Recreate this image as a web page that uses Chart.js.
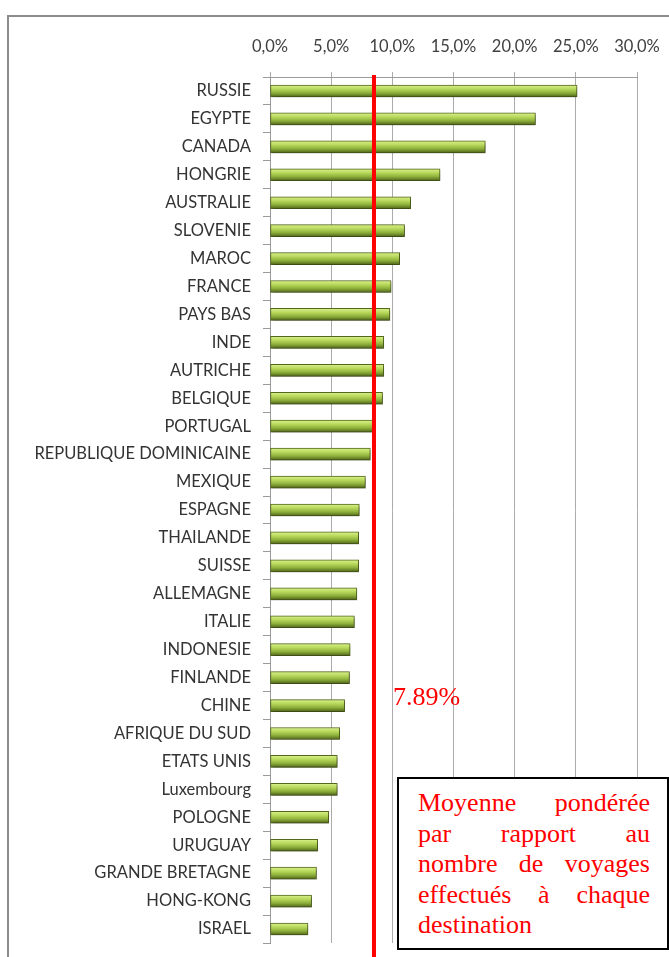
<!DOCTYPE html>
<html><head><meta charset="utf-8">
<script src="https://cdn.jsdelivr.net/npm/chart.js@4/dist/chart.umd.min.js"></script>
<style>
html,body{margin:0;padding:0;background:#fff;}
#wrap{position:relative;width:669px;height:957px;overflow:hidden;}
#frame{position:absolute;left:7px;top:15px;width:700px;height:1000px;border:2px solid #8c8c8c;box-sizing:border-box;}
#c{position:absolute;left:0;top:0;}
#avg{position:absolute;left:393px;top:682px;font-family:"Liberation Serif","Times New Roman",serif;font-size:26px;line-height:30px;color:#ff0000;}
#box{position:absolute;left:397px;top:777px;width:272px;height:173px;border:2px solid #000;box-sizing:border-box;background:#fff;font-family:"Liberation Serif","Times New Roman",serif;font-size:26px;color:#ff0000;}
#box .ln{position:absolute;left:19px;width:232px;display:flex;justify-content:space-between;line-height:30px;}
</style></head>
<body><div id="wrap">
<div id="frame"></div>
<canvas id="c" width="669" height="957"></canvas>
<div id="avg">7.89%</div>
<div id="box"></div>
</div>
<script>
const categories = ["RUSSIE","EGYPTE","CANADA","HONGRIE","AUSTRALIE","SLOVENIE","MAROC","FRANCE","PAYS BAS","INDE","AUTRICHE","BELGIQUE","PORTUGAL","REPUBLIQUE DOMINICAINE","MEXIQUE","ESPAGNE","THAILANDE","SUISSE","ALLEMAGNE","ITALIE","INDONESIE","FINLANDE","CHINE","AFRIQUE DU SUD","ETATS UNIS","Luxembourg","POLOGNE","URUGUAY","GRANDE BRETAGNE","HONG-KONG","ISRAEL"];
const values = [25.1,21.7,17.6,13.9,11.5,11.0,10.6,9.9,9.8,9.3,9.3,9.2,8.4,8.2,7.8,7.3,7.25,7.25,7.1,6.9,6.55,6.5,6.1,5.7,5.5,5.5,4.8,3.9,3.8,3.4,3.1];
const xTicks = [0,5,10,15,20,25,30];
const meanLabel = "7.89%";
const meanLinePosition = 8.5; // where the red line is drawn in the reference
const boxLines = [["Moyenne","pondérée"],["par","rapport","au"],["nombre","de","voyages"],["effectués","à","chaque"],["destination"]];

const box = document.getElementById('box');
boxLines.forEach((words,i)=>{
  const d=document.createElement('div'); d.className='ln';
  d.style.top=(9+i*30.5)+'px';
  if(words.length===1) d.style.justifyContent='flex-start';
  words.forEach(w=>{const s=document.createElement('span'); s.textContent=w; d.appendChild(s);});
  box.appendChild(d);
});
document.getElementById('avg').textContent = meanLabel;

const meanLine = {
  id:'meanLine',
  afterDatasetsDraw(chart){
    const x = chart.scales.x.getPixelForValue(meanLinePosition);
    const c = chart.ctx;
    c.save(); c.strokeStyle='#ff0000'; c.lineWidth=4;
    c.beginPath(); c.moveTo(x, chart.chartArea.top-2); c.lineTo(x, chart.height); c.stroke();
    c.restore();
  }
};
const shadow = {
  id:'shadow',
  beforeDatasetsDraw(chart){const c=chart.ctx;c.save();c.shadowColor='rgba(0,0,0,0.35)';c.shadowBlur=3;c.shadowOffsetX=1;c.shadowOffsetY=2;},
  afterDatasetsDraw(chart){chart.ctx.restore();}
};

new Chart(document.getElementById('c'), {
  type:'bar',
  data:{labels:categories, datasets:[{
    data:values,
    barThickness:12,
    borderWidth:1,
    borderColor:'#55691e',
    borderSkipped:false,
    backgroundColor:(ctx)=>{
      const chart=ctx.chart; const y=chart.scales.y;
      if(!y || ctx.dataIndex===undefined) return '#9bbb59';
      const cy=y.getPixelForValue(ctx.dataIndex);
      if(!isFinite(cy)) return '#9bbb59';
      const g=chart.ctx.createLinearGradient(0,cy-6,0,cy+6);
      g.addColorStop(0,'#dcf28e');
      g.addColorStop(0.35,'#b6d75a');
      g.addColorStop(0.65,'#8fb13c');
      g.addColorStop(1,'#4f6419');
      return g;
    }
  }]},
  options:{
    indexAxis:'y',
    responsive:false,
    animation:false,
    layout:{padding:{left:0,top:0,right:32,bottom:14}},
    plugins:{legend:{display:false},tooltip:{enabled:false}},
    scales:{
      x:{position:'top',min:0,max:30,
        afterBuildTicks(s){s.ticks=xTicks.map(v=>({value:v}));},
        afterFit(s){s.height=77;s.paddingLeft=0;s.paddingRight=0;},
        grid:{color:'#ababab',drawTicks:true,tickLength:5,lineWidth:1},
        border:{display:true,color:'#9a9a9a'},
        ticks:{padding:15,color:'#404040',font:{family:'Lato',size:16.5},
          callback:(v)=>v.toFixed(1).replace('.',',')+'%'}
      },
      y:{
        afterFit(s){s.width=270;s.paddingTop=0;s.paddingBottom=0;},
        grid:{drawOnChartArea:false,drawTicks:true,tickLength:7,color:'#9a9a9a',offset:true},
        border:{display:true,color:'#9a9a9a'},
        ticks:{padding:12,color:'#333333',font:{family:'Lato',size:16.5},autoSkip:false}
      }
    }
  },
  plugins:[shadow,meanLine]
});
</script>
</body></html>
